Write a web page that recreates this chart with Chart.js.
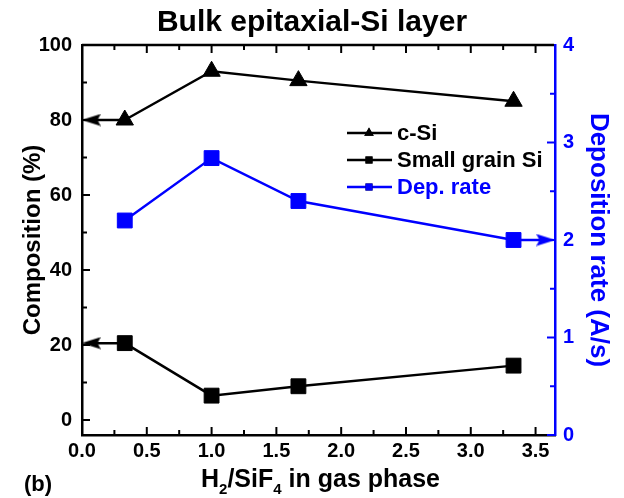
<!DOCTYPE html>
<html>
<head>
<meta charset="utf-8">
<script src="https://cdn.jsdelivr.net/npm/chart.js@4"></script>
<style>
  html, body { margin: 0; padding: 0; background: #fff; }
</style>
</head>
<body>
<canvas id="chart" width="624" height="498"></canvas>
<script>
// H2/SiF4 ratio in gas phase
const ratios = [0.33, 1.0, 1.67, 3.33];
const cSi = [80, 93, 90.5, 85];
const smallGrainSi = [20.5, 6.5, 9, 14.5];
const depRate = [2.2, 2.84, 2.4, 2.0];

const xTickLabels = ["0.0", "0.5", "1.0", "1.5", "2.0", "2.5", "3.0", "3.5"];
const leftTickLabels = ["0", "20", "40", "60", "80", "100"];
const rightTickLabels = ["0", "1", "2", "3", "4"];

// arrow heads pointing to the axis each series belongs to
const leftArrowX = 0.07;
const rightArrowX = 3.58;

const BLUE = "#0000ff";
const FONT = "'Liberation Sans', Arial, sans-serif";

Chart.defaults.font.family = FONT;
Chart.defaults.font.weight = "bold";
Chart.defaults.color = "#000";

function toPoints(ys) {
  return ratios.map((x, i) => ({ x: x, y: ys[i] }));
}

function labelFor(list, value) {
  const hit = list.find(l => Math.abs(Number(l) - value) < 1e-6);
  return hit === undefined ? "" : hit;
}

// slim arrow head image pointing left (used as a point style)
function arrowHead(color) {
  const c = document.createElement("canvas");
  c.width = 19;
  c.height = 13;
  const g = c.getContext("2d");
  g.fillStyle = color;
  g.beginPath();
  g.moveTo(0, 6.5);
  g.lineTo(19, 0.5);
  g.lineTo(16, 6.5);
  g.lineTo(19, 12.5);
  g.closePath();
  g.fill();
  return c;
}

function series(label, ys, color, style, axis) {
  return {
    label: label,
    data: toPoints(ys),
    yAxisID: axis,
    borderColor: color,
    backgroundColor: color,
    borderWidth: 2.5,
    pointStyle: style,
    pointRadius: style === "triangle" ? 10 : 10.5,
    pointBorderWidth: 1,
    tension: 0
  };
}

function arrow(from, toX, color, axis, rot) {
  return {
    label: "",
    isArrow: true,
    data: [from, { x: toX, y: from.y }],
    yAxisID: axis,
    borderColor: color,
    backgroundColor: color,
    borderWidth: 2.5,
    pointStyle: [false, arrowHead(color)],
    pointRadius: [0, 9],
    pointRotation: rot,
    pointBorderWidth: 0
  };
}

const datasets = [
  series("c-Si", cSi, "#000", "triangle", "y"),
  series("Small grain Si", smallGrainSi, "#000", "rect", "y"),
  series("Dep. rate", depRate, BLUE, "rect", "y1"),
  arrow({ x: ratios[0], y: cSi[0] }, leftArrowX, "#000", "y", 0),
  arrow({ x: ratios[0], y: smallGrainSi[0] }, leftArrowX, "#000", "y", 0),
  arrow({ x: ratios[3], y: depRate[3] }, rightArrowX, BLUE, "y1", 180)
];

// inward tick marks, top frame, legend inside the plot, x title with subscripts
const decorations = {
  id: "decorations",
  afterDraw(chart) {
    const { ctx, chartArea: a, scales } = chart;
    ctx.save();
    ctx.lineWidth = 2;
    const line = (x1, y1, x2, y2, color) => {
      ctx.strokeStyle = color;
      ctx.beginPath();
      ctx.moveTo(x1, y1);
      ctx.lineTo(x2, y2);
      ctx.stroke();
    };

    scales.x.ticks.forEach(t => {
      const px = scales.x.getPixelForValue(t.value);
      const len = labelFor(xTickLabels, t.value) ? 8 : 5;
      line(px, a.bottom, px, a.bottom - len, "#000");
      line(px, a.top, px, a.top + len, "#000");
    });
    scales.y.ticks.forEach(t => {
      const py = scales.y.getPixelForValue(t.value);
      const len = labelFor(leftTickLabels, t.value) ? 8 : 5;
      line(a.left, py, a.left + len, py, "#000");
    });
    scales.y1.ticks.forEach(t => {
      const py = scales.y1.getPixelForValue(t.value);
      const len = labelFor(rightTickLabels, t.value) ? 8 : 5;
      line(a.right, py, a.right - len, py, BLUE);
    });
    ctx.lineWidth = 2.5;
    line(a.left, a.top, a.right - 1, a.top, "#000");

    // legend
    const lx = a.left + 265;
    let ly = a.top + 88;
    ctx.font = "bold 22px " + FONT;
    ctx.textBaseline = "middle";
    ctx.textAlign = "left";
    chart.data.datasets.filter(d => !d.isArrow).forEach(d => {
      ctx.lineWidth = 2.5;
      line(lx, ly, lx + 45, ly, d.borderColor);
      Chart.helpers.drawPoint(ctx, {
        pointStyle: d.pointStyle,
        radius: d.pointStyle === "triangle" ? 5.5 : 5,
        rotation: 0,
        borderWidth: 0
      }, lx + 22, ly);
      ctx.fillStyle = d.borderColor;
      ctx.fill();
      ctx.fillText(d.label, lx + 50, ly + 1);
      ly += 27;
    });

    // x title: H2/SiF4 in gas phase
    const parts = [["H", 0], ["2", 1], ["/SiF", 0], ["4", 1], [" in gas phase", 0]];
    const big = "bold 25px " + FONT, small = "bold 15px " + FONT;
    let total = 0;
    parts.forEach(p => { ctx.font = p[1] ? small : big; total += ctx.measureText(p[0]).width; });
    let tx = (a.left + a.right) / 2 + 2 - total / 2;
    const base = 487;
    ctx.textBaseline = "alphabetic";
    ctx.fillStyle = "#000";
    parts.forEach(p => {
      ctx.font = p[1] ? small : big;
      ctx.fillText(p[0], tx, p[1] ? base + 7 : base);
      tx += ctx.measureText(p[0]).width;
    });

    ctx.font = "bold 22px " + FONT;
    ctx.fillText("(b)", 24, 491);
    ctx.restore();
  }
};

new Chart(document.getElementById("chart"), {
  type: "line",
  data: { datasets: datasets },
  options: {
    responsive: false,
    animation: false,
    layout: { padding: 0 },
    plugins: {
      legend: { display: false },
      tooltip: { enabled: false },
      title: {
        display: true,
        text: "Bulk epitaxial-Si layer",
        font: { size: 30, weight: "bold" },
        color: "#000",
        padding: { top: 5, bottom: 4 }
      }
    },
    scales: {
      x: {
        type: "linear",
        min: 0,
        max: 3.65,
        grid: { display: false, drawTicks: false },
        border: { display: true, color: "#000", width: 2.5 },
        ticks: {
          stepSize: 0.25,
          includeBounds: false,
          autoSkip: false,
          maxRotation: 0,
          padding: 4,
          font: { size: 20, weight: "bold" },
          color: "#000",
          callback: v => labelFor(xTickLabels, v)
        },
        afterFit: s => { s.height = 63; }
      },
      y: {
        position: "left",
        min: -4,
        max: 100,
        grid: { display: false, drawTicks: false },
        border: { display: true, color: "#000", width: 2.5 },
        ticks: {
          stepSize: 10,
          includeBounds: false,
          autoSkip: false,
          padding: 10,
          font: { size: 20, weight: "bold" },
          color: "#000",
          callback: v => labelFor(leftTickLabels, v)
        },
        title: {
          display: true,
          text: "Composition (%)",
          font: { size: 24, weight: "bold" },
          color: "#000",
          padding: { top: 19, bottom: 0 }
        },
        afterFit: s => { s.width = 82; }
      },
      y1: {
        position: "right",
        min: 0,
        max: 4,
        grid: { display: false, drawTicks: false },
        border: { display: true, color: BLUE, width: 2.5 },
        ticks: {
          stepSize: 0.5,
          includeBounds: false,
          autoSkip: false,
          padding: 8,
          font: { size: 20, weight: "bold" },
          color: BLUE,
          callback: v => labelFor(rightTickLabels, v)
        },
        title: {
          display: true,
          text: "Deposition rate (A/s)",
          font: { size: 26, weight: "bold" },
          color: BLUE,
          padding: { top: 10, bottom: 0 }
        },
        afterFit: s => { s.width = 69; }
      }
    }
  },
  plugins: [decorations]
});
</script>
</body>
</html>
